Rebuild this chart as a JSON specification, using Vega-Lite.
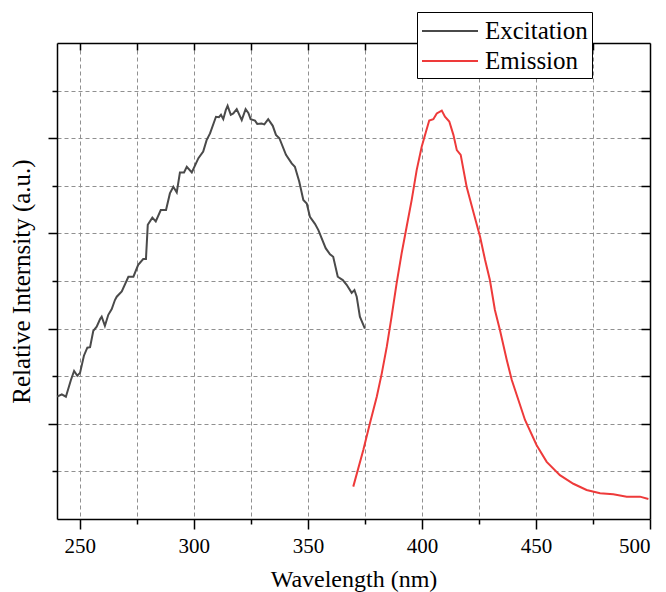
{
  "$schema": "https://vega.github.io/schema/vega-lite/v6.json",
  "width": 593,
  "height": 476,
  "autosize": {"type": "none"},
  "padding": {"left": 57, "top": 43, "right": 16, "bottom": 73},
  "background": "white",
  "config": {
    "view": {"stroke": null},
    "axis": {"domainColor": "black", "domainWidth": 1.5, "tickColor": "black", "tickWidth": 1.5, "labelColor": "black", "titleColor": "black", "titleFontWeight": "normal", "gridColor": "#909090", "gridDash": [4, 3], "gridWidth": 1}
  },
  "data": {"values": [
    {"s":"Excitation","x":240.1,"y":0.257},{"s":"Excitation","x":242.1,"y":0.262},{"s":"Excitation","x":243.9,"y":0.257},{"s":"Excitation","x":246.1,"y":0.292},{"s":"Excitation","x":247.5,"y":0.311},{"s":"Excitation","x":248.9,"y":0.301},{"s":"Excitation","x":250.1,"y":0.307},{"s":"Excitation","x":251.8,"y":0.343},{"s":"Excitation","x":253.3,"y":0.36},{"s":"Excitation","x":254.5,"y":0.361},{"s":"Excitation","x":255.9,"y":0.395},{"s":"Excitation","x":257.4,"y":0.404},{"s":"Excitation","x":258.9,"y":0.42},{"s":"Excitation","x":259.6,"y":0.425},{"s":"Excitation","x":261.0,"y":0.406},{"s":"Excitation","x":262.5,"y":0.429},{"s":"Excitation","x":264.0,"y":0.441},{"s":"Excitation","x":265.4,"y":0.46},{"s":"Excitation","x":266.2,"y":0.467},{"s":"Excitation","x":268.4,"y":0.478},{"s":"Excitation","x":271.3,"y":0.509},{"s":"Excitation","x":273.5,"y":0.509},{"s":"Excitation","x":275.6,"y":0.534},{"s":"Excitation","x":277.8,"y":0.546},{"s":"Excitation","x":279.0,"y":0.546},{"s":"Excitation","x":279.8,"y":0.618},{"s":"Excitation","x":281.8,"y":0.633},{"s":"Excitation","x":283.3,"y":0.625},{"s":"Excitation","x":285.5,"y":0.649},{"s":"Excitation","x":287.8,"y":0.649},{"s":"Excitation","x":289.5,"y":0.684},{"s":"Excitation","x":291.0,"y":0.698},{"s":"Excitation","x":292.5,"y":0.686},{"s":"Excitation","x":293.9,"y":0.728},{"s":"Excitation","x":295.7,"y":0.728},{"s":"Excitation","x":296.9,"y":0.74},{"s":"Excitation","x":299.1,"y":0.728},{"s":"Excitation","x":302.0,"y":0.758},{"s":"Excitation","x":304.1,"y":0.772},{"s":"Excitation","x":305.6,"y":0.796},{"s":"Excitation","x":307.1,"y":0.81},{"s":"Excitation","x":309.7,"y":0.845},{"s":"Excitation","x":311.0,"y":0.844},{"s":"Excitation","x":311.9,"y":0.849},{"s":"Excitation","x":312.9,"y":0.84},{"s":"Excitation","x":314.0,"y":0.859},{"s":"Excitation","x":314.8,"y":0.868},{"s":"Excitation","x":316.2,"y":0.849},{"s":"Excitation","x":317.3,"y":0.852},{"s":"Excitation","x":318.8,"y":0.861},{"s":"Excitation","x":321.0,"y":0.838},{"s":"Excitation","x":322.7,"y":0.861},{"s":"Excitation","x":323.9,"y":0.853},{"s":"Excitation","x":324.9,"y":0.84},{"s":"Excitation","x":326.8,"y":0.837},{"s":"Excitation","x":327.8,"y":0.83},{"s":"Excitation","x":329.7,"y":0.831},{"s":"Excitation","x":330.9,"y":0.829},{"s":"Excitation","x":332.6,"y":0.84},{"s":"Excitation","x":334.6,"y":0.826},{"s":"Excitation","x":336.0,"y":0.807},{"s":"Excitation","x":337.5,"y":0.8},{"s":"Excitation","x":340.4,"y":0.765},{"s":"Excitation","x":342.9,"y":0.747},{"s":"Excitation","x":344.3,"y":0.74},{"s":"Excitation","x":346.2,"y":0.709},{"s":"Excitation","x":348.0,"y":0.67},{"s":"Excitation","x":349.5,"y":0.663},{"s":"Excitation","x":350.9,"y":0.635},{"s":"Excitation","x":353.1,"y":0.62},{"s":"Excitation","x":354.6,"y":0.607},{"s":"Excitation","x":357.8,"y":0.569},{"s":"Excitation","x":359.7,"y":0.556},{"s":"Excitation","x":361.1,"y":0.551},{"s":"Excitation","x":363.1,"y":0.509},{"s":"Excitation","x":365.3,"y":0.502},{"s":"Excitation","x":367.0,"y":0.492},{"s":"Excitation","x":369.2,"y":0.475},{"s":"Excitation","x":370.4,"y":0.481},{"s":"Excitation","x":371.4,"y":0.467},{"s":"Excitation","x":372.8,"y":0.425},{"s":"Excitation","x":375.0,"y":0.4},
    {"s":"Emission","x":369.9,"y":0.068},{"s":"Emission","x":374.3,"y":0.145},{"s":"Emission","x":377.2,"y":0.201},{"s":"Emission","x":380.2,"y":0.257},{"s":"Emission","x":382.4,"y":0.306},{"s":"Emission","x":384.6,"y":0.362},{"s":"Emission","x":386.7,"y":0.425},{"s":"Emission","x":388.9,"y":0.495},{"s":"Emission","x":391.1,"y":0.558},{"s":"Emission","x":393.3,"y":0.614},{"s":"Emission","x":395.5,"y":0.67},{"s":"Emission","x":397.7,"y":0.733},{"s":"Emission","x":399.9,"y":0.782},{"s":"Emission","x":401.8,"y":0.814},{"s":"Emission","x":403.2,"y":0.837},{"s":"Emission","x":405.0,"y":0.84},{"s":"Emission","x":406.5,"y":0.852},{"s":"Emission","x":408.7,"y":0.858},{"s":"Emission","x":410.1,"y":0.845},{"s":"Emission","x":412.0,"y":0.835},{"s":"Emission","x":413.8,"y":0.807},{"s":"Emission","x":415.3,"y":0.775},{"s":"Emission","x":417.0,"y":0.765},{"s":"Emission","x":419.6,"y":0.698},{"s":"Emission","x":422.5,"y":0.646},{"s":"Emission","x":425.5,"y":0.593},{"s":"Emission","x":427.7,"y":0.544},{"s":"Emission","x":429.8,"y":0.502},{"s":"Emission","x":432.0,"y":0.439},{"s":"Emission","x":434.2,"y":0.397},{"s":"Emission","x":437.2,"y":0.334},{"s":"Emission","x":439.4,"y":0.292},{"s":"Emission","x":442.3,"y":0.25},{"s":"Emission","x":445.2,"y":0.208},{"s":"Emission","x":450.3,"y":0.155},{"s":"Emission","x":454.7,"y":0.12},{"s":"Emission","x":460.5,"y":0.092},{"s":"Emission","x":466.4,"y":0.074},{"s":"Emission","x":472.2,"y":0.061},{"s":"Emission","x":478.1,"y":0.054},{"s":"Emission","x":483.9,"y":0.052},{"s":"Emission","x":489.8,"y":0.047},{"s":"Emission","x":495.6,"y":0.047},{"s":"Emission","x":499.3,"y":0.042}
  ]},
  "layer": [
    {
      "mark": {"type": "line", "strokeWidth": 2},
      "encoding": {
        "x": {"field": "x", "type": "quantitative",
          "scale": {"domain": [240, 500], "nice": false, "zero": false},
          "axis": {"orient": "bottom", "values": [250,275,300,325,350,375,400,425,450,475,500], "grid": true, "tickSize": {"condition": {"test": "datum.value % 50 === 0", "value": 10}, "value": 5}, "labelExpr": "datum.value % 50 === 0 ? datum.label : ''", "labelFont": "Liberation Serif", "labelFontSize": 21, "labelPadding": 6, "title": "Wavelength (nm)", "titleFont": "Liberation Serif", "titleFontSize": 24, "titlePadding": 11}},
        "y": {"field": "y", "type": "quantitative",
          "scale": {"domain": [0, 1], "nice": false, "zero": false},
          "axis": {"orient": "left", "values": [0.1,0.2,0.3,0.4,0.5,0.6,0.7,0.8,0.9], "grid": true, "labels": false, "tickSize": {"condition": {"test": "round(datum.value*10) % 2 === 0", "value": 9}, "value": 5}, "title": "Relative Internsity (a.u.)", "titleFont": "Liberation Serif", "titleFontSize": 25, "titlePadding": 13}},
        "color": {"field": "s", "type": "nominal",
          "scale": {"domain": ["Excitation", "Emission"], "range": ["#4a4a4a", "#ee3a3a"]},
          "legend": {"title": null, "orient": "none", "legendX": 360, "legendY": -31, "strokeColor": "black", "fillColor": "white", "padding": 4, "symbolType": "M-1,0H3", "symbolSize": 784, "symbolStrokeWidth": 2, "labelFont": "Liberation Serif", "labelFontSize": 25, "labelColor": "black", "labelOffset": 34, "rowPadding": 2, "zindex": 2}}
      }
    },
    {
      "mark": {"type": "point", "opacity": 0},
      "encoding": {
        "x": {"field": "x", "type": "quantitative",
          "scale": {"domain": [240, 500], "nice": false, "zero": false},
          "axis": {"orient": "top", "values": [250,275,300,325,350,375,400,425,450,475], "grid": false, "labels": false, "tickSize": -7, "title": null}},
        "y": {"field": "y", "type": "quantitative",
          "scale": {"domain": [0, 1], "nice": false, "zero": false},
          "axis": {"orient": "right", "values": [0.1,0.2,0.3,0.4,0.5,0.6,0.7,0.8,0.9], "grid": false, "labels": false, "tickSize": -9, "title": null}}
      }
    }
  ],
  "resolve": {"axis": {"x": "independent", "y": "independent"}}
}
